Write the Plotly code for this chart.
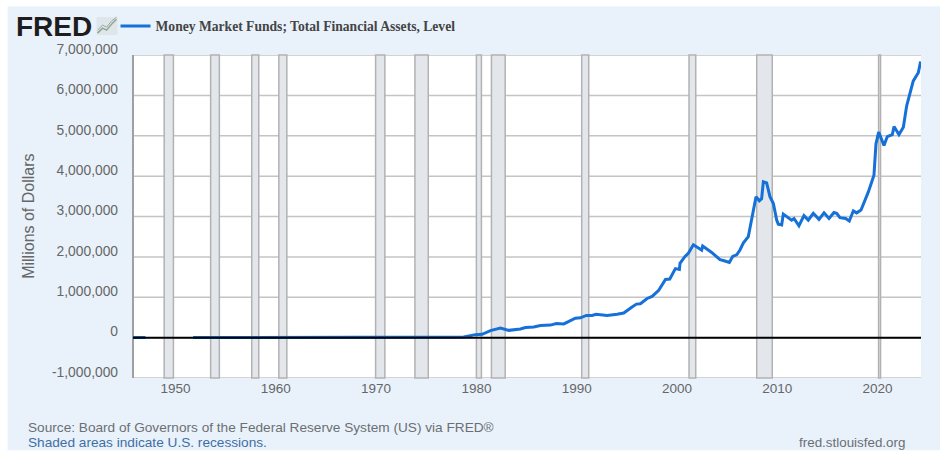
import plotly.graph_objects as go

SERIES_NAME = "Money Market Funds; Total Financial Assets, Level"
years_early = [1945.75, 1947.0, None, 1951.75, 1960.0, 1970.0, 1977.41, 1978.74, 1979.9, 1980.57, 1981.4, 1982.4,
    1983.23, 1984.39, 1984.89, 1985.72, 1986.38, 1987.38, 1987.98, 1988.71, 1989.87, 1990.37, 1990.97,
    1991.53, 1991.93, 1993.03, 1994.03, 1994.69, 1995.52, 1995.96, 1996.35, 1997.02, 1997.52, 1998.18,
    1998.85, 1999.28, 1999.84, 2000.24]
values_early = [1000, 2000, None, 2000, 3000, 4000, 4000, 17000, 74000, 83000, 174000, 240000,
    180000, 215000, 250000, 265000, 300000, 310000, 347000, 340000, 480000, 490000, 550000,
    550000, 580000, 550000, 580000, 610000, 760000, 830000, 840000, 970000, 1020000, 1170000,
    1440000, 1450000, 1710000, 1690000]
years_late = [2000.30, 2000.80, 2001.13, 2001.63, 2002.46, 2002.56, 2003.46, 2004.29, 2004.62, 2005.22, 2005.55,
    2005.95, 2006.28, 2006.61, 2007.11, 2007.45, 2007.88, 2008.21, 2008.44, 2008.61, 2008.94, 2009.27,
    2009.61, 2009.94, 2010.10, 2010.44, 2010.60, 2011.43, 2011.67, 2012.16, 2012.66, 2013.09, 2013.59,
    2014.16, 2014.66, 2015.16, 2015.65, 2015.92, 2016.25, 2016.82, 2017.18, 2017.58, 2017.91, 2018.35,
    2018.74, 2019.08, 2019.64, 2019.84, 2020.11, 2020.64, 2020.97, 2021.47, 2021.64, 2022.13, 2022.57,
    2022.90, 2023.56, 2024.06, 2024.29]
values_late = [1840000, 2010000, 2090000, 2300000, 2170000, 2270000, 2110000, 1930000, 1910000, 1860000, 2010000,
    2050000, 2170000, 2340000, 2500000, 2910000, 3490000, 3390000, 3440000, 3860000, 3830000, 3490000,
    3320000, 2910000, 2810000, 2790000, 3060000, 2910000, 2950000, 2770000, 3020000, 2910000, 3080000,
    2930000, 3090000, 2950000, 3100000, 3080000, 2970000, 2950000, 2890000, 3140000, 3090000, 3160000,
    3400000, 3610000, 4020000, 4800000, 5090000, 4760000, 4980000, 5030000, 5230000, 5030000, 5210000,
    5740000, 6360000, 6560000, 6840000]
recession_start = [1948.87, 1953.5, 1957.6, 1960.3, 1969.95, 1973.87, 1980.0, 1981.5, 1990.5, 2001.2, 2007.95, 2020.1]
recession_end = [1949.79, 1954.37, 1958.3, 1961.1, 1970.87, 1975.2, 1980.5, 1982.87, 1991.2, 2001.87, 2009.5, 2020.3]
x_ticks = [1950, 1960, 1970, 1980, 1990, 2000, 2010, 2020]
y_ticks = [-1000000, 0, 1000000, 2000000, 3000000, 4000000, 5000000, 6000000, 7000000]

L, R, T, B = 132.5, 921.0, 54.0, 378.5
W, H = 945, 458
def px(x): return (x - L) / (R - L)
def py(y): return (B - y) / (B - T)

BLUE = "#1570d8"
SANS = "Liberation Sans, Arial, sans-serif"
fig = go.Figure()
fig.add_trace(go.Scatter(x=years_early + years_late, y=values_early + values_late, mode="lines",
                         name=SERIES_NAME, connectgaps=False,
                         line=dict(color=BLUE, width=3)))

shapes = [
    dict(type="rect", xref="paper", yref="paper", x0=px(7), x1=px(940), y0=py(451), y1=py(5),
         fillcolor="#e9f2fb", line_width=0, layer="below"),
    dict(type="rect", xref="paper", yref="paper", x0=0, x1=1, y0=0, y1=1,
         fillcolor="#ffffff", line_width=0, layer="below"),
]
for v in y_ticks:
    shapes.append(dict(type="line", xref="paper", yref="y", x0=0, x1=1, y0=v, y1=v,
                       line=dict(color="#c4c4c4", width=1.5), layer="below"))
for a, b in zip(recession_start, recession_end):
    shapes.append(dict(type="rect", xref="x", yref="paper", x0=a, x1=b, y0=0, y1=1,
                       fillcolor="#e3e7ec", line=dict(color="#b2b2b2", width=1.5), layer="below"))
shapes.append(dict(type="line", xref="paper", yref="paper", x0=0, x1=0, y0=0, y1=1,
                   line=dict(color="#a0a0a0", width=2), layer="below"))
shapes.append(dict(type="line", xref="paper", yref="y", x0=0, x1=1, y0=0, y1=0,
                   line=dict(color="#000000", width=2), layer="above"))
# FRED logo icon
shapes.append(dict(type="rect", xref="paper", yref="paper", x0=px(96), x1=px(117), y0=py(34), y1=py(16),
                   fillcolor="#dfe6ea", line_width=0, layer="above"))
def poly(pts):
    return "M" + " L".join(f"{px(a):.5f},{py(b):.5f}" for a, b in pts)
shapes.append(dict(type="path", xref="paper", yref="paper", path=poly([(97, 32), (102, 27), (106, 29), (111, 23), (116, 18)]),
                   line=dict(color="#8fa88f", width=1.5), layer="above"))
shapes.append(dict(type="path", xref="paper", yref="paper", path=poly([(97, 29), (102, 24), (106, 26), (111, 20), (116, 16)]),
                   line=dict(color="#9aa4ad", width=1), layer="above"))

annotations = [
    dict(text="<b>FRED</b>", xref="paper", yref="paper", x=px(13), y=py(25), xanchor="left", yanchor="middle",
         showarrow=False, font=dict(family=SANS, size=28, color="#1d1d1f")),
    dict(text="Source: Board of Governors of the Federal Reserve System (US) via FRED®", xref="paper", yref="paper",
         x=px(25), y=py(428), xanchor="left", yanchor="middle", showarrow=False,
         font=dict(family=SANS, size=13.65, color="#6b6f73")),
    dict(text="Shaded areas indicate U.S. recessions.", xref="paper", yref="paper",
         x=px(25), y=py(443), xanchor="left", yanchor="middle", showarrow=False,
         font=dict(family=SANS, size=13.65, color="#3f6ea5")),
    dict(text="fred.stlouisfed.org", xref="paper", yref="paper",
         x=px(907), y=py(443), xanchor="right", yanchor="middle", showarrow=False,
         font=dict(family=SANS, size=13.4, color="#6b6f73")),
    dict(text="Millions of Dollars", xref="paper", yref="paper", x=px(28), y=py(216), textangle=-90,
         xanchor="center", yanchor="middle", showarrow=False, font=dict(family=SANS, size=16, color="#666666")),
]

fig.update_layout(
    width=W, height=H, margin=dict(l=L, r=W - R, t=T, b=H - B, pad=0),
    paper_bgcolor="#ffffff", plot_bgcolor="rgba(0,0,0,0)",
    shapes=shapes, annotations=annotations, showlegend=True,
    legend=dict(x=px(115), y=py(26), xanchor="left", yanchor="middle", bgcolor="rgba(0,0,0,0)",
                font=dict(family="Liberation Serif, Times New Roman, serif", size=13.6, color="#444444", weight="bold"),
                itemwidth=30),
    xaxis=dict(range=[1945.76, 2024.33], tickmode="array", tickvals=x_ticks, showgrid=False, zeroline=False,
               ticks="", tickfont=dict(family=SANS, size=13.5, color="#666666"), showline=False),
    yaxis=dict(range=[-1000000, 7000000], tickmode="array", tickvals=y_ticks,
               ticktext=[f"{v:,}" for v in y_ticks], showgrid=False, zeroline=False, ticks="",
               ticklabelstandoff=14, ticklabelshift=-6,
               tickfont=dict(family=SANS, size=13.8, color="#666666"), showline=False),
)
fig.write_html("out.html", post_script="document.body.style.margin='0';", config=dict(displayModeBar=False))
